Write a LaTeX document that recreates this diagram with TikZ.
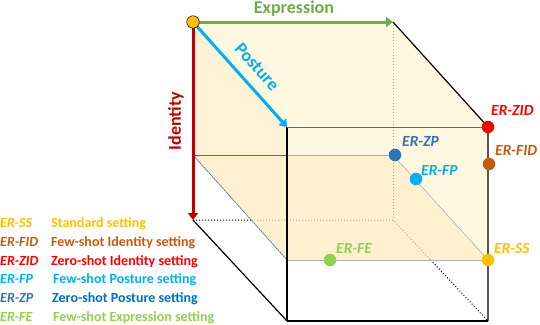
\documentclass[tikz,border=0pt]{standalone}
\usepackage{fontspec}
\setmainfont{Carlito}
\usepackage{xcolor}
\definecolor{ssyellow}{RGB}{255,192,0}
\definecolor{fidbrown}{RGB}{197,90,17}
\definecolor{zidred}{RGB}{255,0,0}
\definecolor{fpblue}{RGB}{0,176,240}
\definecolor{zpblue}{RGB}{46,117,182}
\definecolor{zpdark}{RGB}{0,112,192}
\definecolor{fegreen}{RGB}{146,208,80}
\definecolor{exgreen}{RGB}{112,173,71}
\definecolor{iddark}{RGB}{192,0,0}
\definecolor{edgeblue}{RGB}{65,113,156}
\definecolor{edgegray}{RGB}{170,175,180}
\definecolor{hidtan}{RGB}{190,165,130}
\definecolor{facetop}{RGB}{255,247,224}
\definecolor{faceside}{RGB}{255,242,214}
\definecolor{faceplane}{RGB}{255,240,208}
\usetikzlibrary{arrows.meta}

\begin{document}
\begin{tikzpicture}[x=1pt, y=-1pt,
    axisarrow/.style={line width=3pt, -{Triangle[length=7pt, width=10pt]}},
    axislabel/.style={font=\fontsize{18}{20}\selectfont\bfseries, inner sep=0pt},
    erdot/.style={circle, inner sep=0pt, minimum size=12.5pt},
    erlabel/.style={font=\fontsize{15.5}{17}\selectfont\bfseries\itshape,
                    anchor=base west, inner sep=0pt},
    legtext/.style={font=\fontsize{14}{16}\selectfont\bfseries,
                    anchor=base west, inner sep=0pt}]
    \useasboundingbox (0,0) rectangle (540,324);

    % Cube corners (back face, front face) and the cutting plane
    \coordinate (A) at (193,22);  \coordinate (B) at (393,22);
    \coordinate (E) at (193,220); \coordinate (F) at (393,220);
    \coordinate (C) at (287,127); \coordinate (D) at (488,127);
    \coordinate (G) at (287,321); \coordinate (H) at (488,321);
    \coordinate (P1) at (193,155); \coordinate (P2) at (393,155);
    \coordinate (P3) at (488,260); \coordinate (P4) at (287,260);
    \coordinate (PC) at (287,155);
    \coordinate (EX) at (intersection of E--F and P1--P4);
    \coordinate (FX) at (intersection of F--H and P4--P3);

    % Shaded upper part of the cube
    \fill[facetop] (A) -- (B) -- (D) -- (P3) -- (P4) -- (C) -- cycle;
    \fill[faceside] (A) -- (C) -- (P4) -- (P1) -- cycle;
    \fill[faceplane] (P1) -- (P2) -- (P3) -- (P4) -- cycle;

    % Hidden edges
    \draw[hidtan, dotted, line width=1pt] (B) -- (F);
    \draw[black, dotted, line width=1pt] (E) -- (EX);
    \draw[hidtan, dotted, line width=1pt] (EX) -- (F) -- (FX);
    \draw[black, dotted, line width=1pt] (FX) -- (H);

    % Plane edges
    \draw[edgeblue, line width=0.9pt] (P1) -- (PC);
    \draw[edgegray, line width=0.9pt] (PC) -- (P2);
    \draw[edgegray, line width=0.6pt] (P2) -- (P3);
    \draw[edgegray, line width=1pt] (P4) -- (P3);
    \draw[edgeblue, line width=0.7pt, dash pattern=on 2pt off 0.6pt] (P1) -- (P4);

    % Visible edges
    \draw[line width=1.2pt] (B) -- (D) -- (H);
    \draw[line width=1.2pt] (C) -- (G);
    \draw[line width=1.2pt] (E) -- (G);
    \draw[line width=2.2pt] (G) -- (H);
    \draw[edgeblue, line width=1pt] (C) -- (D);

    % Axes
    \draw[axisarrow, exgreen] (A) -- (B);
    \draw[axisarrow, iddark] (A) -- (E);
    \draw[axisarrow, fpblue] (A) -- (C);
    \node[axislabel, text=exgreen, anchor=base] (expr) at (294,13) {Expression};
    \node[axislabel, text=fpblue, rotate=-48.5] (post) at (257,67) {Posture};
    \node[axislabel, text=iddark, rotate=90] (iden) at (176,121) {Identity};

    % Settings in the cube
    \node[erdot, fill=ssyellow, draw=black, line width=0.5pt] (orig) at (A) {};
    \node[erdot, fill=zidred] (zid) at (D) {};
    \node[erdot, fill=fidbrown] (fid) at (489,164) {};
    \node[erdot, fill=zpblue] (zp) at (395,155) {};
    \node[erdot, fill=fpblue] (fp) at (416,179) {};
    \node[erdot, fill=fegreen] (fe) at (330,260) {};
    \node[erdot, fill=ssyellow] (ss) at (P3) {};

    \node[erlabel, text=zidred] (zidl) at (491,115) {ER-ZID};
    \node[erlabel, text=fidbrown] (fidl) at (495,155) {ER-FID};
    \node[erlabel, text=zpblue] (zpl) at (402,146) {ER-ZP};
    \node[erlabel, text=fpblue] (fpl) at (421,175) {ER-FP};
    \node[erlabel, text=fegreen] (fel) at (336,253) {ER-FE};
    \node[erlabel, text=ssyellow] (ssl) at (494,253) {ER-SS};

    % Legend
    \node[legtext, font=\fontsize{14}{16}\selectfont\bfseries\itshape, text=ssyellow] (k1) at (0,227) {ER-SS};
    \node[legtext, text=ssyellow] (d1) at (51,227) {Standard setting};
    \node[legtext, font=\fontsize{14}{16}\selectfont\bfseries\itshape, text=fidbrown] (k2) at (0,246) {ER-FID};
    \node[legtext, text=fidbrown] (d2) at (51,246) {Few-shot Identity setting};
    \node[legtext, font=\fontsize{14}{16}\selectfont\bfseries\itshape, text=zidred] (k3) at (0,265) {ER-ZID};
    \node[legtext, text=zidred] (d3) at (51,265) {Zero-shot Identity setting};
    \node[legtext, font=\fontsize{14}{16}\selectfont\bfseries\itshape, text=fpblue] (k4) at (0,283) {ER-FP};
    \node[legtext, text=fpblue] (d4) at (53,283) {Few-shot Posture setting};
    \node[legtext, font=\fontsize{14}{16}\selectfont\bfseries\itshape, text=zpblue] (k5) at (0,302) {ER-ZP};
    \node[legtext, text=zpdark] (d5) at (52,302) {Zero-shot Posture setting};
    \node[legtext, font=\fontsize{14}{16}\selectfont\bfseries\itshape, text=fegreen] (k6) at (0,321) {ER-FE};
    \node[legtext, text=fegreen] (d6) at (53,321) {Few-shot Expression setting};
\end{tikzpicture}
\end{document}
